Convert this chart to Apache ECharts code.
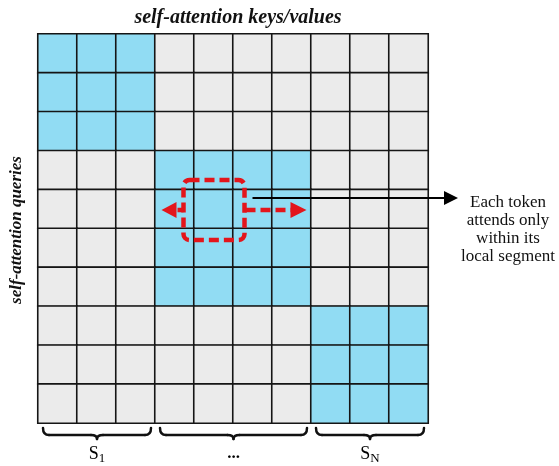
<!DOCTYPE html>
<html><head><meta charset="utf-8">
<script src="https://cdn.jsdelivr.net/npm/echarts@6/dist/echarts.min.js"></script>
<style>html,body{margin:0;padding:0;background:#fff}#c{width:559px;height:466px}</style>
</head><body><div id="c"></div>
<script>
// ---- data ----
const keyLabels = ['k1','k2','k3','k4','k5','k6','k7','k8','k9','k10'];
const queryLabels = ['q1','q2','q3','q4','q5','q6','q7','q8','q9','q10'];
// 1 = attended (inside local segment), 0 = masked
const mask = [
  [1,1,1,0,0,0,0,0,0,0],
  [1,1,1,0,0,0,0,0,0,0],
  [1,1,1,0,0,0,0,0,0,0],
  [0,0,0,1,1,1,1,0,0,0],
  [0,0,0,1,1,1,1,0,0,0],
  [0,0,0,1,1,1,1,0,0,0],
  [0,0,0,1,1,1,1,0,0,0],
  [0,0,0,0,0,0,0,1,1,1],
  [0,0,0,0,0,0,0,1,1,1],
  [0,0,0,0,0,0,0,1,1,1]
];
const segmentLabels = ['S1','...','SN'];
const segmentRanges = [[0,2],[3,6],[7,9]];
const focusCell = [4,4]; // [key index, query index]

const serif = 'Liberation Serif, Times New Roman, serif';
const data = [];
mask.forEach((row, r) => row.forEach((v, c) => data.push([c, r, v])));

const chart = echarts.init(document.getElementById('c'));
chart.setOption({
  animation: false,
  title: {
    text: 'self-attention keys/values', left: 233, top: 3, textAlign: 'center',
    textStyle: {fontFamily: serif, fontStyle: 'italic', fontWeight: 'bold', fontSize: 20, color: '#111'}
  },
  grid: {left: 38, top: 34, width: 390, height: 389},
  xAxis: {type: 'category', data: keyLabels, show: false},
  yAxis: {type: 'category', data: queryLabels, inverse: true, show: false},
  visualMap: {show: false, type: 'piecewise', dimension: 2,
    pieces: [{value: 0, color: '#ebebeb'}, {value: 1, color: '#91dcf3'}]},
  series: [{type: 'heatmap', data: data,
    itemStyle: {borderColor: '#151515', borderWidth: 1.6},
    emphasis: {disabled: true}}]
});

function px(c, r) { return chart.convertToPixel({xAxisIndex: 0, yAxisIndex: 0}, [c, r]); }
const p0 = px(0, 0), p1 = px(1, 1);
const cw = p1[0] - p0[0], ch = p1[1] - p0[1];
const gridBottom = px(0, 9)[1] + ch / 2;
const fc = px(focusCell[0], focusCell[1]);
const cx = fc[0], cy = fc[1];
const red = '#e3151b';

const g = [];
// dashed rounded rect around focus cell
g.push({type: 'rect', shape: {x: cx - 30, y: cy - 29, width: 61, height: 60, r: 6},
  style: {fill: null, stroke: red, lineWidth: 4.5, lineDash: [10, 5]}, z: 10});
// left dashed arrow
g.push({type: 'line', shape: {x1: cx - 30, y1: cy + 1, x2: cx - 40, y2: cy + 1},
  style: {stroke: red, lineWidth: 4.5, lineDash: [6, 3]}, z: 10});
g.push({type: 'polygon', shape: {points: [[cx - 52, cy + 1], [cx - 37, cy - 7], [cx - 37, cy + 9]]},
  style: {fill: red}, z: 10});
// right dashed arrow
g.push({type: 'line', shape: {x1: cx + 32, y1: cy + 1, x2: cx + 80, y2: cy + 1},
  style: {stroke: red, lineWidth: 4.5, lineDash: [10, 5]}, z: 10});
g.push({type: 'polygon', shape: {points: [[cx + 93, cy + 1], [cx + 77, cy - 7], [cx + 77, cy + 9]]},
  style: {fill: red}, z: 10});
// black callout arrow
g.push({type: 'line', shape: {x1: cx + 39, y1: cy - 11, x2: 447, y2: cy - 11},
  style: {stroke: '#000', lineWidth: 2}, z: 11});
g.push({type: 'polygon', shape: {points: [[458, cy - 11], [444, cy - 18], [444, cy - 4]]},
  style: {fill: '#000'}, z: 11});
g.push({type: 'text', x: 508, y: cy - 16, z: 11,
  style: {text: 'Each token\nattends only\nwithin its\nlocal segment', font: '17px ' + serif,
    fill: '#111', textAlign: 'center', lineHeight: 18}});
// y axis label
g.push({type: 'text', rotation: Math.PI / 2, x: 17, y: 230, z: 11,
  style: {text: 'self-attention queries', font: 'italic bold 17px ' + serif, fill: '#111',
    textAlign: 'center', textVerticalAlign: 'middle'}});
// braces
const braceStyle = {fill: null, stroke: '#111', lineWidth: 2.5, lineCap: 'round'};
segmentRanges.forEach((rg, i) => {
  const x0 = px(rg[0], 0)[0] - cw / 2 + 5;
  const x1 = px(rg[1], 0)[0] + cw / 2 - 4;
  const m = (x0 + x1) / 2;
  const yt = gridBottom + 5, yh = gridBottom + 12, yp = gridBottom + 16;
  const segs = [
    [[x0, yt], [x0, yh], [x0 + 6, yh]],
    [[m - 6, yh], [m, yh], [m, yp]],
    [[m, yp], [m, yh], [m + 6, yh]],
    [[x1 - 6, yh], [x1, yh], [x1, yt]]
  ];
  segs.forEach(s => g.push({type: 'bezierCurve',
    shape: {x1: s[0][0], y1: s[0][1], cpx1: s[1][0], cpy1: s[1][1], x2: s[2][0], y2: s[2][1]},
    style: braceStyle, z: 11}));
  g.push({type: 'line', shape: {x1: x0 + 6, y1: yh, x2: m - 6, y2: yh}, style: braceStyle, z: 11});
  g.push({type: 'line', shape: {x1: m + 6, y1: yh, x2: x1 - 6, y2: yh}, style: braceStyle, z: 11});
  const lbl = segmentLabels[i];
  const rich = {
    s: {fontFamily: serif, fontSize: 18, color: '#111'},
    sub: {fontFamily: serif, fontSize: 13, color: '#111', padding: [9, 0, 0, 0]},
    d: {fontFamily: serif, fontSize: 17, fontWeight: 'bold', color: '#111'}
  };
  const txt = lbl === '...' ? '{d|...}' : '{s|' + lbl[0] + '}{sub|' + lbl.slice(1) + '}';
  g.push({type: 'text', x: m, y: gridBottom + 31, z: 11,
    style: {text: txt, rich: rich, textAlign: 'center', textVerticalAlign: 'middle'}});
});
chart.setOption({graphic: g});
</script>
</body></html>
